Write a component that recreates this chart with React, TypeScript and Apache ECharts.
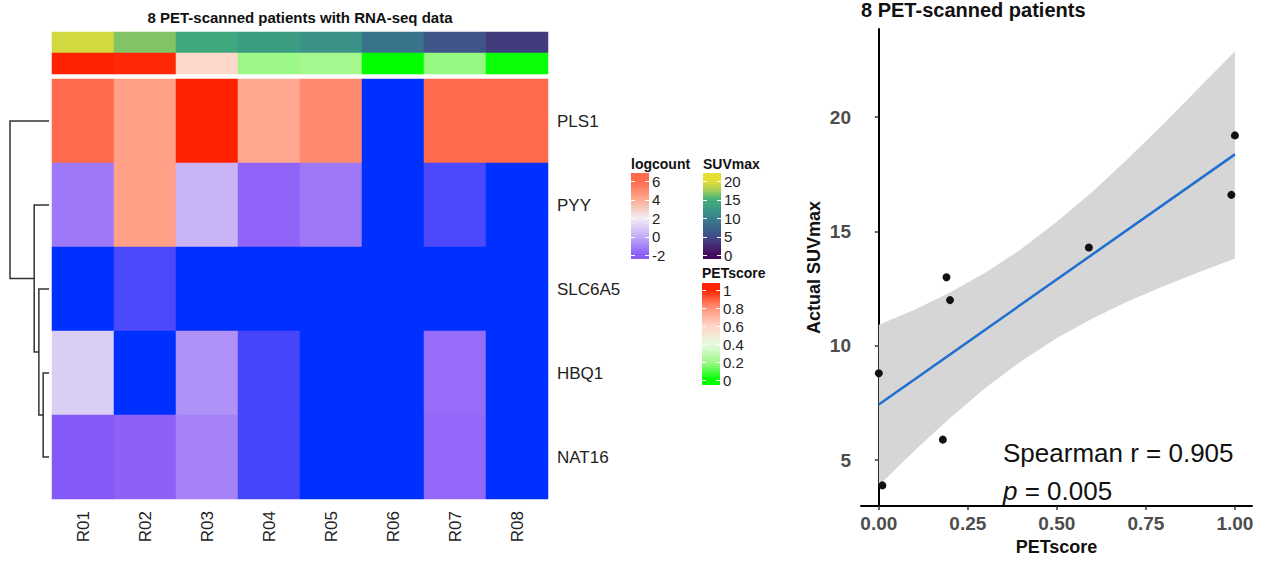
import React, { useEffect, useRef } from "react";
import * as echarts from "echarts";

const FONT = "'Liberation Sans', Arial, Helvetica, sans-serif";

// ---------- data ----------
const samples = ["R01", "R02", "R03", "R04", "R05", "R06", "R07", "R08"];
const genes = ["PLS1", "PYY", "SLC6A5", "HBQ1", "NAT16"];
const logPLS1 = [6.0, 4.3, 8.0, 4.1, 5.0, -4.0, 6.0, 6.0];
const logPYY = [-1.3, 4.3, 0.2, -1.8, -1.3, -4.0, -2.9, -4.0];
const logSLC6A5 = [-4.0, -2.9, -4.0, -4.0, -4.0, -4.0, -4.0, -4.0];
const logHBQ1 = [1.0, -4.0, -0.7, -3.0, -4.0, -4.0, -1.6, -4.0];
const logNAT16 = [-2.1, -1.9, -1.1, -3.0, -4.0, -4.0, -1.7, -4.0];
const suvmax = [19.2, 16.6, 14.3, 13.0, 12.0, 8.8, 5.9, 3.9];
const petscore = [1.0, 0.99, 0.59, 0.19, 0.2, 0.0, 0.18, 0.01];

// dendrogram merges: [childA, childB, height]; leaves 0..4, merged nodes 5..8
const dendroMerges = [
  [3, 4, 1.5],
  [2, 5, 2.6],
  [1, 6, 3.8],
  [0, 7, 10],
];

// legend tick labels
const logTicks = [6, 4, 2, 0, -2];
const suvTicks = [20, 15, 10, 5, 0];
const petTicks = [1, 0.8, 0.6, 0.4, 0.2, 0];
// scatter axis ticks
const xTicks = [0, 0.25, 0.5, 0.75, 1];
const yTicks = [5, 10, 15, 20];

// regression line and confidence band
const fitX = [0, 1];
const fitY = [7.44, 18.37];
const bandX = [0, 0.1, 0.2, 0.3, 0.4, 0.5, 0.6, 0.7, 0.8, 0.9, 1.0];
const bandLow = [3.9, 5.42, 6.85, 8.17, 9.33, 10.34, 11.2, 11.95, 12.61, 13.23, 13.82];
const bandHigh = [10.92, 11.58, 12.33, 13.21, 14.23, 15.42, 16.74, 18.19, 19.71, 21.29, 22.88];

// ---------- colours ----------
const logColors = ["#0030FF", "#8A5CF8", "#C4AEF6", "#F2EEF4", "#FFAA92", "#FF6A4C", "#FF2200"]; // -4..8
const suvColors = ["#46085C", "#432A72", "#404C86", "#3C6689", "#38808E", "#3C9886", "#40B079", "#A6CF5C", "#E6DE32"]; // 0..20
const petColors = ["#00FF00", "#A4F88E", "#E6FBE0", "#FFD6CA", "#FF9478", "#FF2200"]; // 0..1

function hexToRgb(h: string) {
  const n = parseInt(h.slice(1), 16);
  return [(n >> 16) & 255, (n >> 8) & 255, n & 255];
}
function colorAt(stops: string[], min: number, max: number, v: number) {
  const t = Math.min(1, Math.max(0, (v - min) / (max - min))) * (stops.length - 1);
  const i = Math.min(stops.length - 2, Math.floor(t));
  const f = t - i;
  const a = hexToRgb(stops[i]);
  const b = hexToRgb(stops[i + 1]);
  const c = a.map((x, k) => Math.round(x + (b[k] - x) * f));
  return `rgb(${c[0]},${c[1]},${c[2]})`;
}

function legend(o: {
  title: string; x: number; titleY: number; barTop: number; barBottom: number;
  ticks: number[]; tickTopY: number; tickBottomY: number;
  stops: string[]; min: number; max: number;
}) {
  const w = 18;
  const vHi = o.ticks[0];
  const vLo = o.ticks[o.ticks.length - 1];
  const yOf = (v: number) => o.tickTopY + ((vHi - v) / (vHi - vLo)) * (o.tickBottomY - o.tickTopY);
  const vOf = (y: number) => vHi - ((y - o.tickTopY) / (o.tickBottomY - o.tickTopY)) * (vHi - vLo);
  const colorStops: any[] = [];
  for (let k = 0; k <= 30; k++) {
    const t = k / 30;
    const y = o.barTop + t * (o.barBottom - o.barTop);
    const v = Math.min(vHi, Math.max(vLo, vOf(y)));
    colorStops.push({ offset: t, color: colorAt(o.stops, o.min, o.max, v) });
  }
  const els: any[] = [];
  els.push({
    type: "text", x: o.x, y: o.titleY,
    style: { text: o.title, fontSize: 14, fontWeight: "bold", fontFamily: FONT, fill: "#111",
      align: "left", verticalAlign: "middle", textAlign: "left", textVerticalAlign: "middle" },
  });
  els.push({
    type: "rect",
    shape: { x: o.x, y: o.barTop, width: w, height: o.barBottom - o.barTop },
    style: { fill: { type: "linear", x: 0, y: 0, x2: 0, y2: 1, colorStops } },
  });
  o.ticks.forEach((t) => {
    const y = Math.round(yOf(t)) + 0.5;
    els.push({ type: "line", shape: { x1: o.x, y1: y, x2: o.x + 4, y2: y }, style: { stroke: "#fff", lineWidth: 1 } });
    els.push({ type: "line", shape: { x1: o.x + w - 4, y1: y, x2: o.x + w, y2: y }, style: { stroke: "#fff", lineWidth: 1 } });
    els.push({
      type: "text", x: o.x + w + 3, y: yOf(t),
      style: { text: String(t), fontSize: 15, fontFamily: FONT, fill: "#222",
        align: "left", verticalAlign: "middle", textAlign: "left", textVerticalAlign: "middle" },
    });
  });
  return els;
}

export default function App() {
  const ref = useRef<HTMLDivElement>(null);

  useEffect(() => {
    if (!ref.current) return;
    const chart = echarts.init(ref.current, undefined, { renderer: "svg" });

    const geneRows = [logPLS1, logPYY, logSLC6A5, logHBQ1, logNAT16];
    const heatData: any[] = [];
    geneRows.forEach((row, gi) => row.forEach((v, si) => heatData.push([si, gi, v])));
    const suvData = suvmax.map((v, i) => [i, 0, v]);
    const petData = petscore.map((v, i) => [i, 1, v]);

    // dendrogram geometry from merges
    const pos: number[] = genes.map((_, i) => i);
    const hgt: number[] = genes.map(() => 0);
    const dendroData: any[] = [];
    dendroMerges.forEach(([a, b, h]) => {
      dendroData.push([pos[a], pos[b], h, hgt[a], hgt[b]]);
      pos.push((pos[a] + pos[b]) / 2);
      hgt.push(h);
    });

    const pts = samples.map((_, i) => [petscore[i], suvmax[i]]);

    const axisLabelStyle = { fontSize: 19, fontWeight: "bold", color: "#4D4D4D", fontFamily: FONT };

    const graphics: any[] = [
      {
        type: "text", x: 300, y: 17,
        style: { text: "8 PET-scanned patients with RNA-seq data", fontSize: 15, fontWeight: "bold",
          fontFamily: FONT, fill: "#111", align: "center", verticalAlign: "middle",
          textAlign: "center", textVerticalAlign: "middle" },
      },
      {
        type: "text", x: 861, y: 10,
        style: { text: "8 PET-scanned patients", fontSize: 20, fontWeight: "bold",
          fontFamily: FONT, fill: "#111", align: "left", verticalAlign: "middle",
          textAlign: "left", textVerticalAlign: "middle" },
      },
      {
        type: "text", x: 1003, y: 453, z: 100,
        style: { text: "Spearman r = 0.905", fontSize: 26, fontFamily: FONT, fill: "#111",
          align: "left", verticalAlign: "middle", textAlign: "left", textVerticalAlign: "middle" },
      },
      {
        type: "text", x: 1003, y: 491, z: 100,
        style: { text: "{i|p} = 0.005", fontSize: 26, fontFamily: FONT, fill: "#111",
          align: "left", verticalAlign: "middle", textAlign: "left", textVerticalAlign: "middle",
          rich: { i: { fontStyle: "italic", fontSize: 26, fontFamily: FONT, fill: "#111" } } },
      },
      ...legend({ title: "logcount", x: 631, titleY: 164, barTop: 173, barBottom: 259,
        ticks: logTicks, tickTopY: 181, tickBottomY: 255, stops: logColors, min: -4, max: 8 }),
      ...legend({ title: "SUVmax", x: 703, titleY: 164, barTop: 173, barBottom: 259,
        ticks: suvTicks, tickTopY: 181, tickBottomY: 255, stops: suvColors, min: 0, max: 20 }),
      ...legend({ title: "PETscore", x: 702, titleY: 273, barTop: 283, barBottom: 385,
        ticks: petTicks, tickTopY: 290, tickBottomY: 380, stops: petColors, min: 0, max: 1 }),
    ];

    const option: any = {
      animation: false,
      backgroundColor: "#fff",
      textStyle: { fontFamily: FONT },
      grid: [
        { left: 52, top: 79, width: 496, height: 420 },
        { left: 52, top: 32, width: 496, height: 42 },
        { left: 10, top: 79, width: 39, height: 420 },
        { left: 861, top: 29, width: 391, height: 482 },
      ],
      xAxis: [
        {
          type: "category", gridIndex: 0, data: samples,
          axisLine: { show: false }, axisTick: { show: false }, splitLine: { show: false },
          axisLabel: { rotate: 90, fontSize: 17, color: "#222", margin: 12, fontFamily: FONT },
        },
        { type: "category", gridIndex: 1, data: samples, show: false },
        { type: "value", gridIndex: 2, min: 0, max: 10, inverse: true, show: false },
        {
          type: "value", gridIndex: 3, min: -0.05, max: 1.048,
          axisLine: { show: true, lineStyle: { color: "#000", width: 2 } },
          axisTick: { show: true, customValues: xTicks, length: 4, lineStyle: { color: "#333", width: 1.5 } },
          axisLabel: { customValues: xTicks, formatter: (v: number) => v.toFixed(2), margin: 8, ...axisLabelStyle },
          splitLine: { show: false },
          name: "PETscore", nameLocation: "middle", nameGap: 32,
          nameTextStyle: { fontSize: 18, fontWeight: "bold", color: "#111", fontFamily: FONT },
        },
      ],
      yAxis: [
        {
          type: "category", gridIndex: 0, data: genes, inverse: true, position: "right",
          axisLine: { show: false }, axisTick: { show: false }, splitLine: { show: false },
          axisLabel: { fontSize: 17, color: "#222", margin: 9, fontFamily: FONT },
        },
        { type: "category", gridIndex: 1, data: ["SUVmax", "PETscore"], inverse: true, show: false },
        { type: "value", gridIndex: 2, min: -0.5, max: 4.5, inverse: true, show: false },
        {
          type: "value", gridIndex: 3, min: 3.0, max: 23.85,
          axisLine: { show: true, lineStyle: { color: "#000", width: 2 } },
          axisTick: { show: true, customValues: yTicks, length: 4, lineStyle: { color: "#333", width: 1.5 } },
          axisLabel: { customValues: yTicks, margin: 10, ...axisLabelStyle },
          splitLine: { show: false },
          name: "Actual SUVmax", nameLocation: "middle", nameGap: 38,
          nameTextStyle: { fontSize: 18, fontWeight: "bold", color: "#111", fontFamily: FONT },
        },
      ],
      visualMap: [
        { type: "continuous", show: false, seriesIndex: 0, dimension: 2, min: -4, max: 8, inRange: { color: logColors } },
        { type: "continuous", show: false, seriesIndex: 1, dimension: 2, min: 0, max: 20, inRange: { color: suvColors } },
        { type: "continuous", show: false, seriesIndex: 2, dimension: 2, min: 0, max: 1, inRange: { color: petColors } },
      ],
      series: [
        { type: "heatmap", xAxisIndex: 0, yAxisIndex: 0, data: heatData, emphasis: { disabled: true }, silent: true },
        { type: "heatmap", xAxisIndex: 1, yAxisIndex: 1, data: suvData, emphasis: { disabled: true }, silent: true },
        { type: "heatmap", xAxisIndex: 1, yAxisIndex: 1, data: petData, emphasis: { disabled: true }, silent: true },
        {
          type: "custom", xAxisIndex: 2, yAxisIndex: 2, data: dendroData, silent: true,
          encode: { x: [2, 3, 4], y: [0, 1] },
          renderItem: (_p: any, api: any) => {
            const ya = api.value(0), yb = api.value(1), h = api.value(2), ha = api.value(3), hb = api.value(4);
            const pts2 = [api.coord([ha, ya]), api.coord([h, ya]), api.coord([h, yb]), api.coord([hb, yb])];
            return { type: "polyline", shape: { points: pts2 }, style: { stroke: "#333", lineWidth: 1.5, fill: null } };
          },
        },
        {
          type: "custom", xAxisIndex: 3, yAxisIndex: 3, data: [[0.5, 13]], silent: true, z: 1,
          renderItem: (_p: any, api: any) => {
            const up = bandX.map((x, i) => api.coord([x, bandHigh[i]]));
            const lo = bandX.map((x, i) => api.coord([x, bandLow[i]])).reverse();
            return { type: "polygon", shape: { points: up.concat(lo) }, style: { fill: "#D6D6D6", stroke: null } };
          },
        },
        {
          type: "line", xAxisIndex: 3, yAxisIndex: 3, z: 3, showSymbol: false, silent: true,
          data: fitX.map((x, i) => [x, fitY[i]]),
          lineStyle: { color: "#1E6FD0", width: 2.5 },
        },
        {
          type: "scatter", xAxisIndex: 3, yAxisIndex: 3, z: 4, data: pts, symbolSize: 8, silent: true,
          itemStyle: { color: "#111", opacity: 1 },
        },
      ],
      graphic: { elements: graphics },
    };

    chart.setOption(option);
    return () => chart.dispose();
  }, []);

  return (
    <div
      ref={ref}
      style={{ position: "fixed", left: 0, top: 0, width: 1269, height: 561, background: "#fff" }}
    />
  );
}
